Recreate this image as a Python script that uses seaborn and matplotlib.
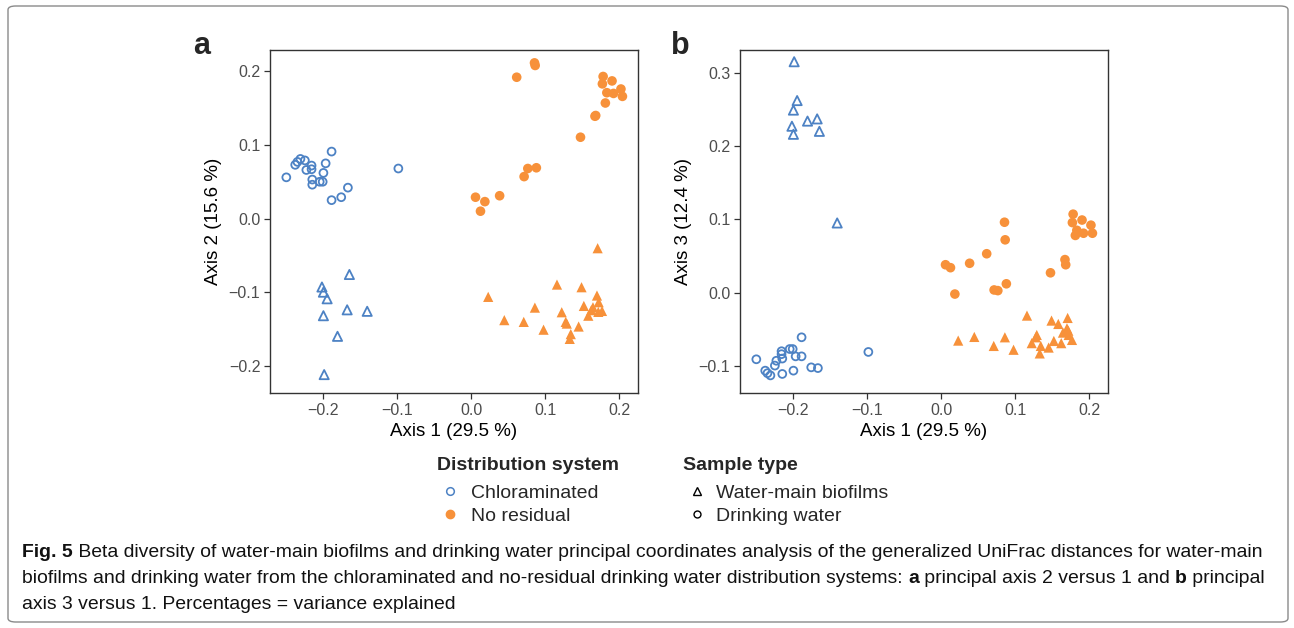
import numpy as np
import pandas as pd
import matplotlib
matplotlib.use("Agg")
import matplotlib.pyplot as plt
import seaborn as sns
from matplotlib.lines import Line2D
from matplotlib.patches import FancyBboxPatch
from matplotlib import font_manager

# ---------------- data ----------------
systems = ["Chloraminated", "No residual"]
samples = ["Water-main biofilms", "Drinking water"]

chl_dw_axis1 = [-0.249, -0.237, -0.234, -0.230, -0.224, -0.222, -0.215, -0.215, -0.214, -0.214,
                -0.204, -0.200, -0.199, -0.196, -0.188, -0.188, -0.098, -0.175, -0.166]
chl_dw_axis2 = [0.056, 0.073, 0.077, 0.081, 0.079, 0.066, 0.072, 0.067, 0.053, 0.046,
                0.050, 0.050, 0.062, 0.075, 0.091, 0.025, 0.068, 0.029, 0.042]
chl_dw_axis3 = [-0.091, -0.1065, -0.110, -0.113, -0.0996, -0.093, -0.080, -0.084, -0.090, -0.111,
                -0.077, -0.077, -0.1065, -0.087, -0.061, -0.087, -0.081, -0.102, -0.103]

chl_bf_axis1 = [-0.164, -0.201, -0.199, -0.194, -0.199, -0.167, -0.140, -0.180, -0.198]
chl_bf_axis2 = [-0.076, -0.093, -0.100, -0.109, -0.132, -0.124, -0.126, -0.160, -0.212]
chl_bf_axis3 = [0.220, 0.227, 0.249, 0.262, 0.216, 0.237, 0.095, 0.234, 0.315]

nr_dw_axis1 = [0.0855, 0.0864, 0.0615, 0.178, 0.177, 0.190, 0.202, 0.204, 0.183, 0.192, 0.181,
               0.167, 0.168, 0.1475, 0.0765, 0.088, 0.0715, 0.006, 0.0186, 0.0127, 0.0385]
nr_dw_axis2 = [0.2115, 0.208, 0.192, 0.193, 0.183, 0.187, 0.176, 0.166, 0.171, 0.170, 0.157,
               0.139, 0.140, 0.1105, 0.068, 0.069, 0.057, 0.029, 0.023, 0.010, 0.031]
nr_dw_axis3 = [0.096, 0.072, 0.053, 0.107, 0.0955, 0.099, 0.092, 0.081, 0.085, 0.081, 0.078,
               0.045, 0.038, 0.027, 0.0027, 0.012, 0.0036, 0.038, -0.002, 0.034, 0.040]

nr_bf_axis1 = [0.1706, 0.1158, 0.1489, 0.1697, 0.0231, 0.172, 0.152, 0.1643, 0.086, 0.1222, 0.162,
               0.1715, 0.1765, 0.0448, 0.071, 0.1276, 0.129, 0.158, 0.145, 0.0977, 0.1344, 0.133]
nr_bf_axis2 = [-0.0403, -0.0897, -0.0933, -0.1046, -0.1064, -0.1137, -0.1187, -0.1205, -0.121, -0.1273,
               -0.1245, -0.1268, -0.1255, -0.138, -0.1404, -0.1404, -0.1427, -0.132, -0.1467, -0.151,
               -0.157, -0.1635]
nr_bf_axis3 = [-0.0346, -0.0314, -0.0382, -0.0487, -0.0655, -0.0578, -0.066, -0.0546, -0.061, -0.069,
               -0.069, -0.052, -0.0646, -0.0605, -0.0728, -0.061, -0.0578, -0.0428, -0.075, -0.078,
               -0.0728, -0.083]

x_ticks = [-0.2, -0.1, 0.0, 0.1, 0.2]
y2_ticks = [-0.2, -0.1, 0.0, 0.1, 0.2]
y3_ticks = [-0.1, 0.0, 0.1, 0.2, 0.3]


def block(system, sample, a1, a2, a3):
    return pd.DataFrame({"system": system, "sample": sample, "axis1": a1, "axis2": a2, "axis3": a3})


df = pd.concat([
    block("Chloraminated", "Drinking water", chl_dw_axis1, chl_dw_axis2, chl_dw_axis3),
    block("Chloraminated", "Water-main biofilms", chl_bf_axis1, chl_bf_axis2, chl_bf_axis3),
    block("No residual", "Drinking water", nr_dw_axis1, nr_dw_axis2, nr_dw_axis3),
    block("No residual", "Water-main biofilms", nr_bf_axis1, nr_bf_axis2, nr_bf_axis3),
], ignore_index=True)

# ---------------- style ----------------
sns.set_theme(style="white")
plt.rcParams["font.family"] = ["Liberation Sans", "DejaVu Sans"]

BLUE = "#4D82C4"
ORANGE = "#F7913A"
COLORS = {"Chloraminated": BLUE, "No residual": ORANGE}
MARKERS = {"Water-main biofilms": "^", "Drinking water": "o"}

W, H = 1294, 628
fig = plt.figure(figsize=(W / 100, H / 100), dpi=100)
fig.patch.set_facecolor("white")


def fx(px):
    return px / W


def fy(py):
    return 1 - py / H


# outer frame
frame = FancyBboxPatch((fx(8), fy(622)), fx(1288) - fx(8), fy(6) - fy(622),
                       boxstyle="round,pad=0,rounding_size=0.006", transform=fig.transFigure,
                       facecolor="none", edgecolor="#8a8a8a", linewidth=1.0)
fig.patches.append(frame)

ax_a = fig.add_axes([fx(270), fy(393), fx(638) - fx(270), fy(50) - fy(393)])
ax_b = fig.add_axes([fx(740), fy(393), fx(1108) - fx(740), fy(50) - fy(393)])


def fmt(v):
    return f"{v:.1f}".replace("-", "\u2212")


def draw_panel(ax, ycol, ylabel, ylim, yticks):
    for (sysname, smp), sub in df.groupby(["system", "sample"], sort=False):
        hollow = sysname == "Chloraminated"
        if hollow:
            size = 44 if smp == "Water-main biofilms" else 32
        else:
            size = 54 if smp == "Water-main biofilms" else 48
        sns.scatterplot(data=sub, x="axis1", y=ycol, marker=MARKERS[smp], color=COLORS[sysname],
                        s=size, linewidth=0, ax=ax, legend=False, zorder=3)
        coll = ax.collections[-1]
        if hollow:
            coll.set_facecolor("none")
            coll.set_edgecolor(BLUE)
            coll.set_linewidth(1.3)
        else:
            coll.set_facecolor(ORANGE)
            coll.set_edgecolor("none")
    ax.set_xlim(-0.271, 0.225)
    ax.set_ylim(*ylim)
    ax.set_xticks(x_ticks)
    ax.set_yticks(yticks)
    ax.set_xticklabels([fmt(v) for v in x_ticks])
    ax.set_yticklabels([fmt(v) for v in yticks])
    ax.tick_params(axis="both", which="major", direction="out", length=4, width=0.9,
                   color="#333333", labelcolor="#4D4D4D", labelsize=11.5, pad=3, left=True, bottom=True)
    for sp in ax.spines.values():
        sp.set_color("#333333")
        sp.set_linewidth(1.0)
    ax.set_xlabel("Axis 1 (29.5 %)", fontsize=13.5, color="black", labelpad=4)
    ax.set_ylabel(ylabel, fontsize=13.5, color="black", labelpad=5)
    ax.grid(False)


draw_panel(ax_a, "axis2", "Axis 2 (15.6 %)", (-0.237, 0.229), y2_ticks)
draw_panel(ax_b, "axis3", "Axis 3 (12.4 %)", (-0.137, 0.331), y3_ticks)
fig.text(fx(193), fy(54), "a", fontsize=22, fontweight="bold", ha="left", va="baseline")
fig.text(fx(671), fy(54), "b", fontsize=22, fontweight="bold", ha="left", va="baseline")

# ---------------- legends ----------------
fig.text(fx(437), fy(466), "Distribution system", fontsize=14, fontweight="bold",
         ha="left", va="center")
fig.text(fx(683), fy(466), "Sample type", fontsize=14, fontweight="bold",
         ha="left", va="center")

h1 = [Line2D([], [], marker="o", ls="", mfc="none", mec=BLUE, mew=1.1, ms=5.5),
      Line2D([], [], marker="o", ls="", mfc=ORANGE, mec=ORANGE, ms=6)]
leg1 = fig.legend(h1, systems, loc="upper left",
                  bbox_to_anchor=(fx(437), fy(484)), frameon=False, fontsize=14,
                  handlelength=1.35, handletextpad=0.4, labelspacing=0.28, borderpad=0,
                  borderaxespad=0)
h2 = [Line2D([], [], marker="^", ls="", mfc="none", mec="black", mew=1.0, ms=5.5),
      Line2D([], [], marker="o", ls="", mfc="none", mec="black", mew=1.0, ms=5)]
leg2 = fig.legend(h2, samples, loc="upper left",
                  bbox_to_anchor=(fx(683), fy(484)), frameon=False, fontsize=14,
                  handlelength=1.4, handletextpad=0.3, labelspacing=0.28, borderpad=0,
                  borderaxespad=0)

# ---------------- caption ----------------


def font_ok(name):
    try:
        font_manager.findfont(font_manager.FontProperties(family=name), fallback_to_default=False)
        return True
    except Exception:
        return False


CAPFONT = "Liberation Sans Narrow" if font_ok("Liberation Sans Narrow") else "Liberation Sans"

caption = [
    [("Fig. 5", True), (" Beta diversity of water-main biofilms and drinking water principal coordinates analysis of the generalized UniFrac distances for water-main", False)],
    [("biofilms and drinking water from the chloraminated and no-residual drinking water distribution systems: ", False), ("a", True),
     (" principal axis 2 versus 1 and ", False), ("b", True), (" principal", False)],
    [("axis 3 versus 1. Percentages = variance explained", False)],
]
cap_baselines = [557, 583, 609]

renderer = fig.canvas.get_renderer()


def seg_width(txt, bold, size):
    kw = dict(fontsize=size, fontweight="bold" if bold else "normal", family=CAPFONT)
    t1 = fig.text(0, 0, "|" + txt + "|", **kw)
    t2 = fig.text(0, 0, "||", **kw)
    w = t1.get_window_extent(renderer).width - t2.get_window_extent(renderer).width
    t1.remove()
    t2.remove()
    return w


base = 12.0
w_line1 = sum(seg_width(t, b, base) for t, b in caption[0])
cap_size = base * (1263 - 22) / w_line1

for segs, yb in zip(caption, cap_baselines):
    x = 22
    for txt, bold in segs:
        fig.text(fx(x), fy(yb), txt, fontsize=cap_size, fontweight="bold" if bold else "normal",
                 family=CAPFONT, ha="left", va="baseline", color="#111111")
        x += seg_width(txt, bold, cap_size)

fig.savefig("out.png", dpi=100, facecolor="white")
